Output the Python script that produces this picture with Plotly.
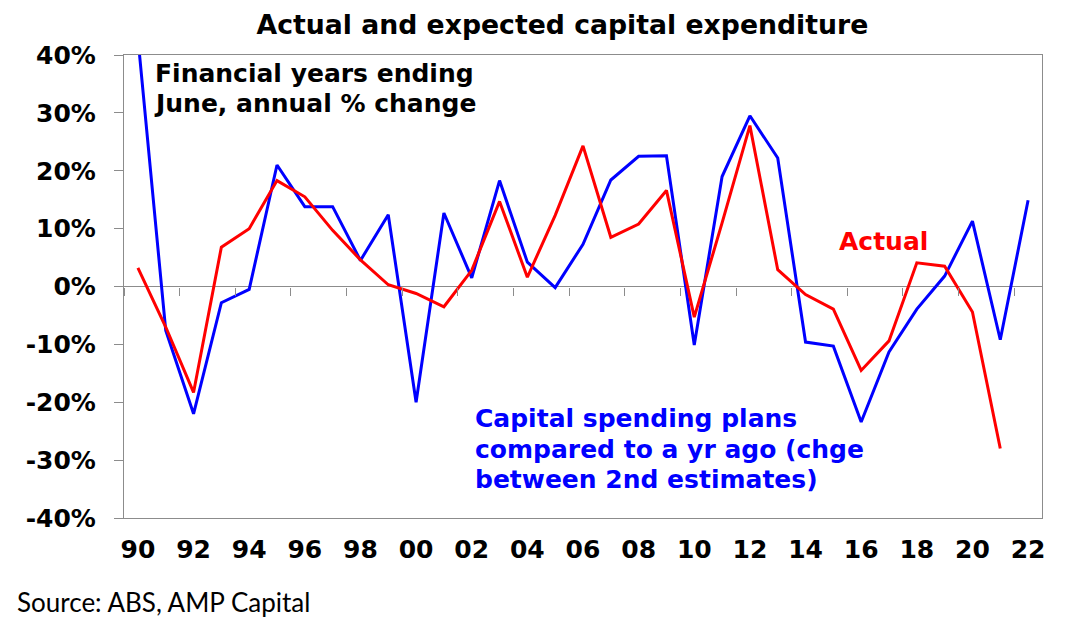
import plotly.graph_objects as go

years = list(range(1990, 2023))
actual = [3.2, -7.0, -18.3, 6.8, 10.0, 18.3, 15.5, 9.7, 4.6, 0.3, -1.2, -3.5, 2.8, 14.7,
          1.6, 12.3, 24.3, 8.5, 10.8, 16.6, -5.3, 11.0, 27.8, 2.9, -1.4, -3.9, -14.5,
          -9.4, 4.1, 3.5, -4.4, -28.0, None]
plans = [43.0, -7.6, -22.0, -2.8, -0.5, 21.0, 13.8, 13.8, 4.5, 12.4, -20.0, 12.7, 1.5, 18.3,
         4.2, -0.2, 7.3, 18.4, 22.5, 22.6, -10.1, 19.0, 29.5, 22.2, -9.6, -10.3, -23.4,
         -11.3, -3.9, 1.8, 11.3, -9.2, 14.9]
label_years = years[::2]
x_labels = [f"{y % 100:02d}" for y in label_years]
y_ticks = [-40, -30, -20, -10, 0, 10, 20, 30, 40]
y_labels = ["-40%", "-30%", "-20%", "-10%", "0%", "10%", "20%", "30%", "40%"]

GREY = "#8c8c8c"
FAM = "DejaVu Sans"
BOLD = dict(family=FAM, size=25, color="black", weight="bold")


def note(text, x, y, color="black", anchor="center"):
    fig.add_annotation(text=text, xref="paper", yref="paper", x=x, y=y, xanchor=anchor,
                       yanchor="middle", showarrow=False,
                       font=dict(family=FAM, size=25, color=color, weight="bold"))


fig = go.Figure()
# invisible copy so the zero-line tick axis gets drawn
fig.add_trace(go.Scatter(x=years, y=plans, xaxis="x2", mode="lines", opacity=0,
                         line=dict(width=0), hoverinfo="skip", showlegend=False))
fig.add_trace(go.Scatter(x=years, y=plans, mode="lines", line=dict(color="#0000ff", width=3),
                         name="Capital spending plans"))
fig.add_trace(go.Scatter(x=years, y=actual, mode="lines", line=dict(color="#ff0000", width=3),
                         name="Actual"))

fig.update_layout(
    width=1050, height=624,
    margin=dict(l=116, r=16, t=47, b=114),
    paper_bgcolor="white", plot_bgcolor="white",
    showlegend=False,
    title=dict(text="Actual and expected capital expenditure", x=0.528, xanchor="center",
               y=0.974, yanchor="middle", font=dict(family=FAM, size=26.7, color="black", weight="bold")),
    xaxis=dict(range=[1989.5, 2022.5], tickvals=label_years, ticktext=x_labels,
               showline=True, mirror=True, linecolor=GREY, linewidth=1.3,
               showgrid=False, zeroline=False, ticks="", tickfont=BOLD, ticklabelstandoff=9),
    xaxis2=dict(overlaying="x", anchor="free", position=0.5, range=[1989.5, 2022.5],
                tickvals=[y - 0.5 for y in label_years], showticklabels=False,
                ticks="outside", ticklen=8, tickcolor=GREY, tickwidth=1.3,
                showline=False, showgrid=False, zeroline=False),
    yaxis=dict(range=[-40, 40], tickvals=y_ticks, ticktext=y_labels, showline=True, mirror=True,
               linecolor=GREY, linewidth=1.3, showgrid=False,
               zeroline=True, zerolinecolor=GREY, zerolinewidth=1.3,
               ticks="outside", ticklen=9, tickcolor=GREY, tickwidth=1.3, tickfont=BOLD,
               ticklabelstandoff=13),
)

note("Financial years ending", 0.208, 0.959)
note("June, annual % change", 0.208, 0.896)
note("Actual", 0.777, 0.598, color="#ff0000", anchor="left")
note("Capital spending plans", 0.38, 0.214, color="#0000ff", anchor="left")
note("compared to a yr ago (chge", 0.38, 0.147, color="#0000ff", anchor="left")
note("between 2nd estimates)", 0.38, 0.084, color="#0000ff", anchor="left")
fig.add_annotation(text="Source: ABS, AMP Capital", xref="paper", yref="paper",
                   x=-0.1187, y=-0.181, xanchor="left", yanchor="middle", showarrow=False,
                   font=dict(family="Lato, Noto Sans", size=26, color="black"))

fig.write_html("out.html")
